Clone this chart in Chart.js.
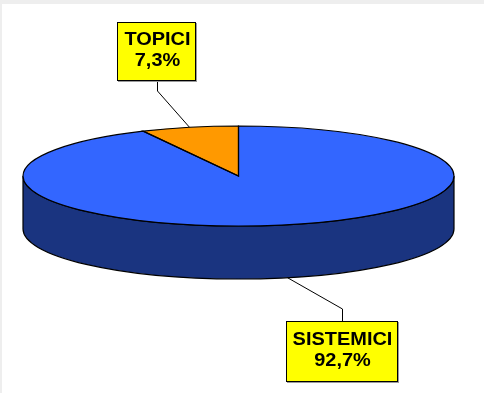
<!DOCTYPE html>
<html>
<head>
<meta charset="utf-8">
<script src="https://cdn.jsdelivr.net/npm/chart.js@4.4.1/dist/chart.umd.min.js"></script>
<style>
html, body { margin: 0; padding: 0; background: #eeeeee; }
#wrap { position: absolute; left: 2px; top: 4px; width: 482px; height: 389px; background: #ffffff; }
</style>
</head>
<body>
<div id="wrap"><canvas id="mycanvas" width="482" height="389"></canvas></div>
<script>
var labels = ['SISTEMICI', 'TOPICI'];
var values = [92.7, 7.3];
var topColors = ['#3366ff', '#ff9900'];
var sideColors = ['#1a3480', '#b36b00'];

// top face ellipse and thickness of the pie, canvas px
var CX = 236.5, CY = 172, RX = 215.5, RY = 50, DEPTH = 53;

// label boxes (left, top, width, height) and where the leader line bends
var boxes = [
	{ x: 284, y: 317, w: 112, h: 61, elbowY: 305 },
	{ x: 115, y: 18, w: 79, h: 59, elbowY: 87 }
];

function ept(a, dy) {
	return { x: CX + RX * Math.cos(a), y: CY + RY * Math.sin(a) + (dy || 0) };
}

var pie3d = {
	id: 'pie3d',
	beforeDatasetsDraw: function(chart) {
		var ctx = chart.ctx;
		var meta = chart.getDatasetMeta(0).data;

		// side walls, only the front half is visible
		meta.forEach(function(arc, i) {
			var p = arc.getProps(['startAngle', 'endAngle'], true);
			[0, 2 * Math.PI].forEach(function(off) {
				var s = Math.max(p.startAngle, off);
				var e = Math.min(p.endAngle, off + Math.PI);
				if (e <= s) return;
				ctx.save();
				ctx.beginPath();
				ctx.ellipse(CX, CY, RX, RY, 0, s, e);
				var b = ept(e, DEPTH);
				ctx.lineTo(b.x, b.y);
				ctx.ellipse(CX, CY + DEPTH, RX, RY, 0, e, s, true);
				ctx.closePath();
				ctx.fillStyle = sideColors[i];
				ctx.fill();
				ctx.lineWidth = 1.2;
				ctx.strokeStyle = '#000';
				ctx.stroke();
				ctx.restore();
			});
		});

		// squash the library's circle into the top face ellipse
		var a0 = meta[0];
		ctx.save();
		ctx.translate(CX, CY);
		ctx.scale(RX / a0.outerRadius, RY / a0.outerRadius);
		ctx.translate(-a0.x, -a0.y);
	},
	afterDatasetsDraw: function(chart) {
		var ctx = chart.ctx;
		ctx.restore();
		var meta = chart.getDatasetMeta(0).data;

		// slice outlines on the top face
		meta.forEach(function(arc) {
			var p = arc.getProps(['startAngle', 'endAngle'], true);
			var s = ept(p.startAngle);
			ctx.beginPath();
			ctx.moveTo(CX, CY);
			ctx.lineTo(s.x, s.y);
			ctx.ellipse(CX, CY, RX, RY, 0, p.startAngle, p.endAngle);
			ctx.closePath();
			ctx.lineWidth = 1.2;
			ctx.strokeStyle = '#000';
			ctx.stroke();
		});

		// callout labels
		meta.forEach(function(arc, i) {
			var p = arc.getProps(['startAngle', 'endAngle'], true);
			var mid = (p.startAngle + p.endAngle) / 2;
			var anchor = ept(mid, Math.sin(mid) > 0 ? DEPTH : 0);
			var b = boxes[i];
			var bx = Math.round(b.x + b.w / 2) + 0.5;
			var edgeY = b.elbowY > b.y ? b.y + b.h : b.y;

			ctx.beginPath();
			ctx.moveTo(anchor.x, anchor.y);
			ctx.lineTo(bx, b.elbowY);
			ctx.lineTo(bx, edgeY);
			ctx.lineWidth = 1;
			ctx.strokeStyle = '#000';
			ctx.stroke();

			ctx.fillStyle = '#9a9a9a';
			ctx.fillRect(b.x + 1, b.y + 1, b.w, b.h);
			ctx.fillStyle = '#ffff00';
			ctx.fillRect(b.x, b.y, b.w, b.h);
			ctx.strokeRect(b.x + 0.5, b.y + 0.5, b.w - 1, b.h - 1);

			var cy = b.y + b.h / 2;
			ctx.save();
			ctx.translate(bx, cy);
			ctx.scale(1.05, 1);
			ctx.fillStyle = '#000';
			ctx.font = 'bold 19px "Liberation Sans", Arial, sans-serif';
			ctx.textAlign = 'center';
			ctx.textBaseline = 'alphabetic';
			ctx.fillText(labels[i], 0, -7);
			ctx.fillText(values[i].toFixed(1).replace('.', ',') + '%', 0, 14.5);
			ctx.restore();
		});
	}
};

var chartdata = {
	labels: labels,
	datasets: [{
		data: values,
		backgroundColor: topColors,
		borderWidth: 0
	}]
};

var mychart = new Chart(document.getElementById('mycanvas'), {
	type: 'pie',
	data: chartdata,
	options: {
		responsive: false,
		animation: false,
		events: [],
		rotation: 0,
		layout: { padding: 20 },
		plugins: {
			legend: { display: false },
			tooltip: { enabled: false }
		}
	},
	plugins: [pie3d]
});
</script>
</body>
</html>
